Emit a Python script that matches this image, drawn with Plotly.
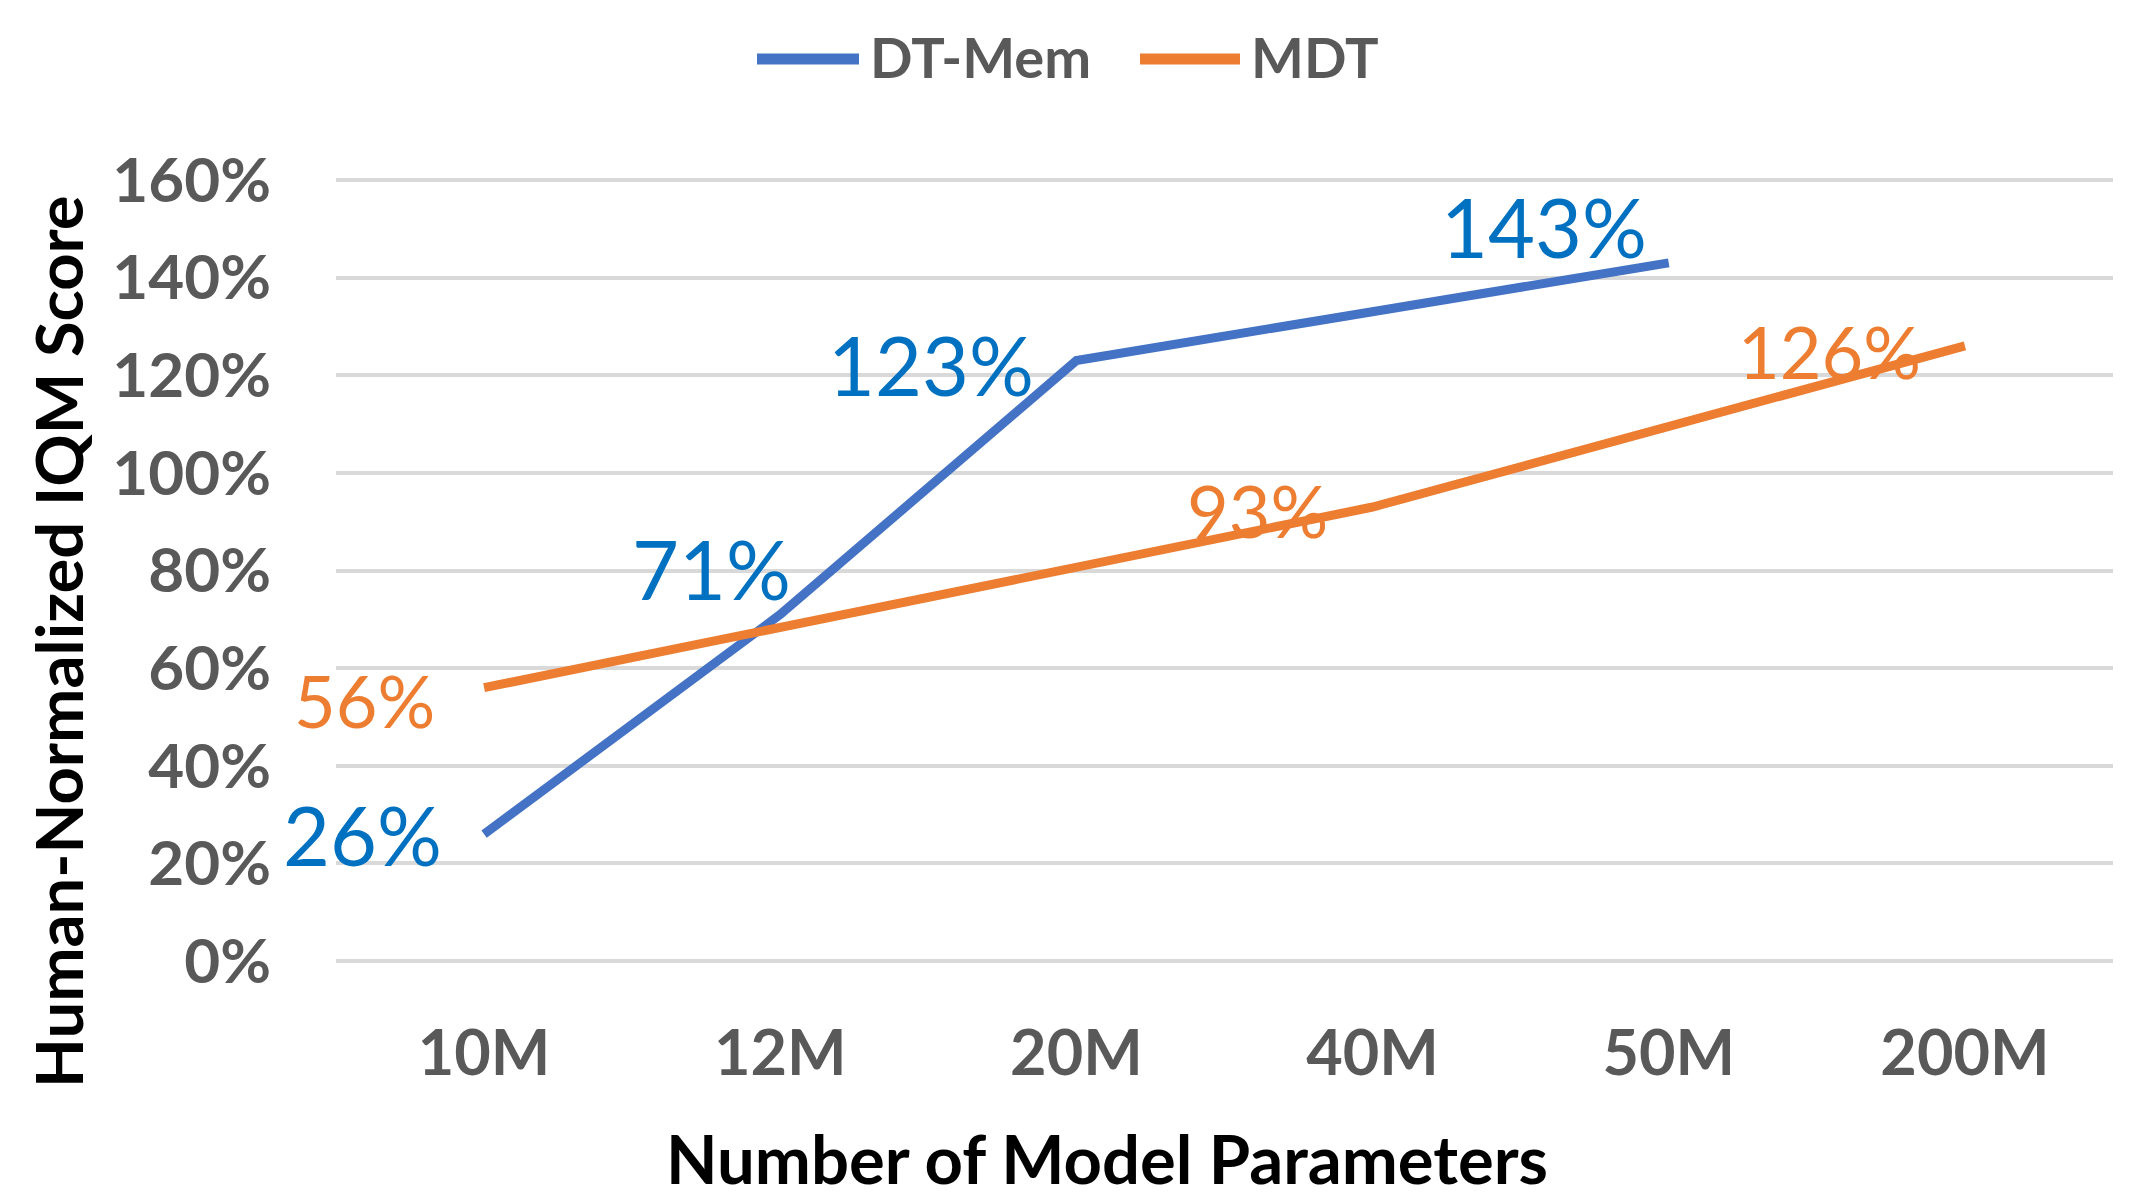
import plotly.graph_objects as go

categories = ["10M", "12M", "20M", "40M", "50M", "200M"]
dtmem_values = [26, 71, 123, None, 143, None]
mdt_values = [56, None, None, 93, None, 126]
dtmem_labels = ["26%", "71%", "123%", None, "143%", None]
mdt_labels = ["56%", None, None, "93%", None, "126%"]
y_ticks = [0, 20, 40, 60, 80, 100, 120, 140, 160]
y_tick_text = ["0%", "20%", "40%", "60%", "80%", "100%", "120%", "140%", "160%"]
series_names = ["DT-Mem", "MDT"]
x_title = "Number of Model Parameters"
y_title = "Human-Normalized IQM Score"

BLUE = "#4472C4"
ORANGE = "#ED7D31"
BLUE_LBL = "#0070C0"
GREY = "#595959"
FONT = "Lato"

OFF = 8  # page body margin
W, H = 2131 - 2 * OFF, 1198 - 2 * OFF
# plot area in screen pixels
S_PL, S_PR, S_PT, S_PB = 336, 2113, 175, 966
PL, PR, PT, PB = S_PL - OFF, S_PR - OFF, S_PT - OFF, S_PB - OFF


def px_x(sx):
    return (sx - OFF - PL) / (PR - PL)


def px_y(sy):
    return (PB - (sy - OFF)) / (PB - PT)


fig = go.Figure()
fig.add_trace(go.Scatter(x=categories, y=dtmem_values, mode="lines", name=series_names[0],
                         connectgaps=True, line=dict(color=BLUE, width=9), showlegend=False))
fig.add_trace(go.Scatter(x=categories, y=mdt_values, mode="lines", name=series_names[1],
                         connectgaps=True, line=dict(color=ORANGE, width=9), showlegend=False))

# data label offsets (pixels) relative to the point
dt_off = {"10M": (-122, 0), "12M": (-69, 46), "20M": (-145, -4), "50M": (-125, 36)}
mdt_off = {"10M": (-120, -12), "40M": (-115, -3), "200M": (-135, -5)}

for c, v, t in zip(categories, dtmem_values, dtmem_labels):
    if v is None:
        continue
    dx, dy = dt_off[c]
    fig.add_annotation(x=c, y=v, text=t, showarrow=False, xshift=dx, yshift=dy,
                       font=dict(family=FONT, size=81, color=BLUE_LBL))
for c, v, t in zip(categories, mdt_values, mdt_labels):
    if v is None:
        continue
    dx, dy = mdt_off[c]
    fig.add_annotation(x=c, y=v, text=t, showarrow=False, xshift=dx, yshift=dy,
                       font=dict(family=FONT, size=72, color=ORANGE))

# legend (drawn to match the long legend keys)
legend_items = [(series_names[0], BLUE, 757, 859, 868), (series_names[1], ORANGE, 1140, 1240, 1249)]
for name, col, x0, x1, tx in legend_items:
    fig.add_shape(type="line", xref="paper", yref="paper",
                  x0=px_x(x0), x1=px_x(x1), y0=px_y(59), y1=px_y(59),
                  line=dict(color=col, width=11))
    fig.add_annotation(xref="paper", yref="paper", x=px_x(tx), y=px_y(57), text=name,
                       showarrow=False, xanchor="left", yanchor="middle",
                       font=dict(family=FONT, size=56, color=GREY, weight="bold"))

# axis titles
fig.add_annotation(xref="paper", yref="paper", x=px_x(1107), y=px_y(1158), text=x_title,
                   showarrow=False, xanchor="center", yanchor="middle",
                   font=dict(family=FONT, size=67, color="black", weight="bold"))
fig.add_annotation(xref="paper", yref="paper", x=px_x(58), y=px_y(642), text=y_title,
                   showarrow=False, xanchor="center", yanchor="middle", textangle=-90,
                   font=dict(family=FONT, size=65, color="black", weight="bold"))

fig.update_layout(
    width=W, height=H,
    margin=dict(l=PL, r=W - PR, t=PT, b=H - PB, autoexpand=False),
    plot_bgcolor="white", paper_bgcolor="white",
    font=dict(family=FONT, color=GREY),
    showlegend=False,
)
fig.update_xaxes(
    type="category", categoryorder="array", categoryarray=categories,
    range=[-0.5, 5.5], showgrid=False, showline=False, zeroline=False,
    tickfont=dict(family=FONT, size=63, color=GREY, weight="bold"),
    ticklabelstandoff=45, automargin=False,
)
fig.update_yaxes(
    range=[-1, 161], tickvals=y_ticks, ticktext=y_tick_text,
    showgrid=True, gridcolor="#D9D9D9", gridwidth=4, zeroline=False, showline=False,
    tickfont=dict(family=FONT, size=62, color=GREY, weight="bold"),
    ticklabelstandoff=64, automargin=False,
)

fig.write_html("out.html")
